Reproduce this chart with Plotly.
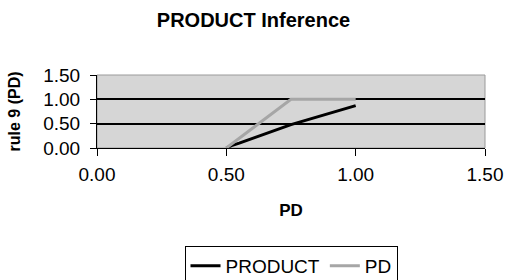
import plotly.graph_objects as go

pd_x = [0.5, 0.75, 1.0]
pd_y = [0.0, 1.0, 1.0]
product_x = [0.5, 0.52, 0.55, 0.75, 1.0]
product_y = [0.0, 0.05, 0.1, 0.48, 0.87]
x_ticks = [0.0, 0.5, 1.0, 1.5]
y_ticks = [0.0, 0.5, 1.0, 1.5]

W, H = 507, 280
font = "Liberation Sans, Arial, sans-serif"
fig = go.Figure()
fig.add_trace(go.Scatter(x=product_x, y=product_y, mode="lines", name="PRODUCT",
                         line=dict(color="black", width=3)))
fig.add_trace(go.Scatter(x=pd_x, y=pd_y, mode="lines", name="PD",
                         line=dict(color="#a6a6a6", width=3)))

fig.update_layout(
    width=W, height=H,
    margin=dict(l=97, r=22, t=75, b=132, autoexpand=False),
    paper_bgcolor="white", plot_bgcolor="#d6d6d6",
    font=dict(family=font, size=19, color="black"),
    title=dict(text="<b>PRODUCT Inference</b>", x=0.5, xanchor="center",
               yref="container", y=1 - 20/H, yanchor="middle",
               font=dict(size=20, family=font)),
    showlegend=True,
    legend=dict(orientation="h", x=0.5, xanchor="center",
                yref="container", y=1 - 246/H, yanchor="top",
                bordercolor="black", borderwidth=1, bgcolor="white",
                font=dict(size=19, family=font), tracegroupgap=0),
    xaxis=dict(range=[0, 1.5], tickvals=x_ticks, tickformat=".2f",
               showgrid=False, zeroline=False, showline=True, linecolor="black",
               linewidth=1, ticks="outside", ticklen=7, tickcolor="black",
               ticklabelstandoff=2, tickfont=dict(size=19),
               title=dict(text="<b>PD</b>", standoff=20, font=dict(size=17))),
    yaxis=dict(range=[0, 1.5], tickvals=y_ticks, tickformat=".2f",
               showgrid=True, gridcolor="black", gridwidth=2, zeroline=False,
               showline=True, linecolor="black", linewidth=1,
               ticks="outside", ticklen=6, tickcolor="black",
               ticklabelstandoff=6, tickfont=dict(size=19),
               title=dict(text="<b>rule 9 (PD)</b>", standoff=18, font=dict(size=16))),
)
fig.add_shape(type="rect", xref="paper", yref="paper", x0=0, y0=0, x1=1, y1=1,
              line=dict(color="#9a9a9a", width=1), layer="below")
fig.write_html("out.html", config={"displayModeBar": False},
               post_script="document.body.style.margin='0px';document.body.style.overflow='hidden';")
